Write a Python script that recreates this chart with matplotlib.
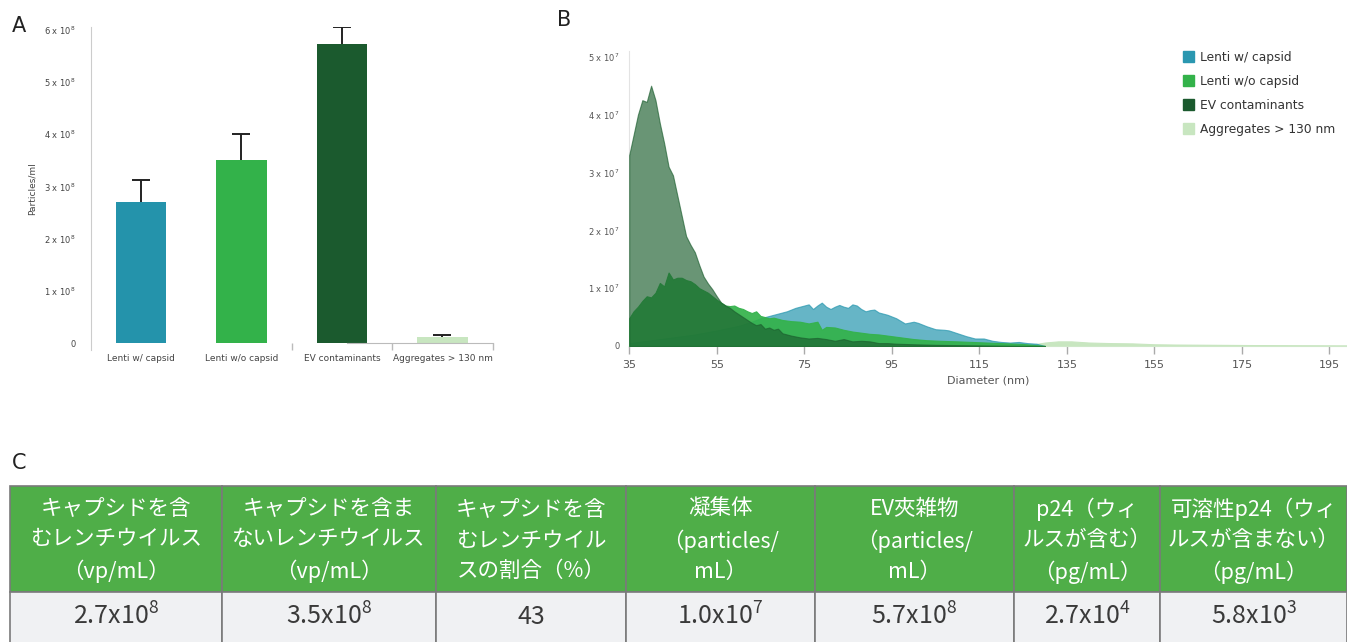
import numpy as np
import matplotlib
matplotlib.use('Agg')
import matplotlib.pyplot as plt
from matplotlib.patches import Patch, Rectangle

plt.rcParams['font.family'] = ['DejaVu Sans']
plt.rcParams['axes.unicode_minus'] = False

W, H = 1347, 642

# ---- Panel A: particle concentrations ----
categories = ['Lenti w/ capsid', 'Lenti w/o capsid', 'EV contaminants', 'Aggregates > 130 nm']
means = [2.70e8, 3.50e8, 5.73e8, 0.11e8]
errors = [0.42e8, 0.50e8, 0.32e8, 0.04e8]
bar_colors = ['#2493ab', '#33b24a', '#1b5a2e', '#c8e6c0']
a_ticks = [0, 1e8, 2e8, 3e8, 4e8, 5e8, 6e8]
a_tick_labels = ['0', r'1 x 10$^8$', r'2 x 10$^8$', r'3 x 10$^8$',
                 r'4 x 10$^8$', r'5 x 10$^8$', r'6 x 10$^8$']

# ---- Panel B: size distributions (values in units of 1e7) ----
ev_x = [35, 36, 37, 38, 39, 40, 41, 42, 43, 44, 45, 46, 47, 48, 49, 50, 51, 52, 53, 54,
        55, 56, 57, 58, 59, 60, 61, 62, 63, 64, 65, 66, 67, 68, 69, 70, 72, 74, 76, 78,
        80, 82, 84, 86, 88, 90, 92, 94, 96, 98, 100, 105, 110, 115, 120, 125, 130]
ev_y = [3.3, 3.65, 4.0, 4.25, 4.22, 4.5, 4.25, 3.85, 3.5, 3.1, 2.95, 2.6, 2.25, 1.9, 1.75,
        1.62, 1.4, 1.2, 1.08, 0.98, 0.86, 0.75, 0.7, 0.66, 0.6, 0.55, 0.5, 0.45, 0.4, 0.36,
        0.38, 0.3, 0.32, 0.28, 0.3, 0.22, 0.18, 0.15, 0.13, 0.14, 0.12, 0.09, 0.12, 0.08,
        0.09, 0.08, 0.05, 0.05, 0.04, 0.035, 0.03, 0.02, 0.015, 0.01, 0.005, 0.002, 0]

wo_x = [35, 36, 37, 38, 39, 40, 41, 42, 43, 44, 45, 46, 47, 48, 49, 50, 51, 52, 53, 54,
        55, 56, 57, 58, 59, 60, 61, 62, 63, 64, 65, 66, 67, 68, 70, 72, 74, 76, 78, 79,
        80, 82, 84, 86, 88, 90, 92, 94, 96, 98, 100, 103, 106, 110, 115, 120, 125, 130]
wo_y = [0.48, 0.6, 0.68, 0.78, 0.86, 0.84, 0.92, 1.09, 1.03, 1.27, 1.15, 1.18, 1.18, 1.14,
        1.12, 1.07, 1.0, 0.96, 0.92, 0.86, 0.8, 0.75, 0.7, 0.69, 0.7, 0.66, 0.64, 0.6, 0.57,
        0.6, 0.52, 0.5, 0.48, 0.49, 0.45, 0.43, 0.42, 0.39, 0.42, 0.28, 0.33, 0.32, 0.28,
        0.25, 0.23, 0.21, 0.2, 0.18, 0.16, 0.14, 0.12, 0.1, 0.09, 0.08, 0.065, 0.05, 0.035, 0]

cap_x = [35, 40, 45, 50, 55, 60, 63, 65, 67, 68, 70, 71, 72, 73, 74, 75, 76, 77, 78, 79,
         80, 81, 82, 83, 84, 85, 86, 87, 88, 89, 90, 91, 92, 94, 96, 98, 100, 101, 103, 105,
         107, 108, 110, 112, 114, 116, 118, 120, 122, 124, 126, 128, 130]
cap_y = [0.05, 0.1, 0.15, 0.2, 0.27, 0.35, 0.42, 0.48, 0.52, 0.54, 0.58, 0.6, 0.63, 0.66,
         0.68, 0.7, 0.72, 0.64, 0.7, 0.75, 0.68, 0.64, 0.68, 0.71, 0.68, 0.66, 0.72, 0.7,
         0.64, 0.6, 0.62, 0.63, 0.58, 0.54, 0.48, 0.39, 0.42, 0.4, 0.34, 0.29, 0.28, 0.27,
         0.22, 0.17, 0.13, 0.13, 0.09, 0.07, 0.06, 0.07, 0.05, 0.04, 0]

agg_x = [125, 130, 133, 136, 140, 145, 150, 155, 160, 170, 180, 190, 199]
agg_y = [0, 0.06, 0.08, 0.08, 0.06, 0.05, 0.045, 0.03, 0.025, 0.02, 0.015, 0.012, 0.01]

b_ticks = [0, 1e7, 2e7, 3e7, 4e7, 5e7]
b_tick_labels = ['0', r'1 x 10$^7$', r'2 x 10$^7$', r'3 x 10$^7$', r'4 x 10$^7$', r'5 x 10$^7$']
b_xticks = [35, 55, 75, 95, 115, 135, 155, 175, 195]

# ---- Panel C: table ----
headers = ['キャプシドを含\nむレンチウイルス\n（vp/mL）',
           'キャプシドを含ま\nないレンチウイルス\n（vp/mL）',
           'キャプシドを含\nむレンチウイル\nスの割合（%）',
           '凝集体\n（particles/\nmL）',
           'EV夾雑物\n（particles/\nmL）',
           'p24（ウィ\nルスが含む）\n（pg/mL）',
           '可溶性p24（ウィ\nルスが含まない）\n（pg/mL）']
values = [r'$\mathregular{2.7x10^{8}}$', r'$\mathregular{3.5x10^{8}}$', '43',
          r'$\mathregular{1.0x10^{7}}$', r'$\mathregular{5.7x10^{8}}$',
          r'$\mathregular{2.7x10^{4}}$', r'$\mathregular{5.8x10^{3}}$']

fig = plt.figure(figsize=(W / 100, H / 100), dpi=100)

# Panel A
ax_a = fig.add_axes([90.7 / W, 1 - 350 / H, 402 / W, (350 - 26.7) / H])
pos = np.arange(len(categories))
ax_a.bar(pos, means, width=0.5, color=bar_colors, zorder=2)
eb = ax_a.errorbar(pos, means, yerr=[[0] * len(errors), errors], fmt='none',
                   ecolor='#222222', elinewidth=1.4, capsize=6.5, capthick=1.4, zorder=3)
eb[1][0].set_visible(False)  # no cap on the bar top
ax_a.set_xlim(-0.5, 3.5)
ax_a.set_ylim(-0.13e8, 6.06e8)
ax_a.set_yticks(a_ticks)
ax_a.set_yticklabels(a_tick_labels)
ax_a.tick_params(axis='y', length=0, pad=11, labelsize=6, labelcolor='#444444')
ax_a.set_xticks(pos)
ax_a.set_xticklabels(categories)
ax_a.set_xticks([1.5, 2.5, 3.5], minor=True)
ax_a.tick_params(axis='x', which='major', length=0, pad=8, labelsize=6.5, labelcolor='#444444')
ax_a.tick_params(axis='x', which='minor', length=5, width=1, color='#bbbbbb', direction='out')
for s in ['top', 'right']:
    ax_a.spines[s].set_visible(False)
ax_a.spines['left'].set_color('#cccccc')
ax_a.spines['bottom'].set_color('#bbbbbb')
ax_a.spines['bottom'].set_position(('data', 0))
ax_a.spines['bottom'].set_bounds(2.05, 3.5)
ax_a.set_ylabel('Particles/ml', fontsize=6.5, color='#444444', labelpad=5)

# Panel B
ax_b = fig.add_axes([629.2 / W, 1 - 346 / H, (W - 629.2) / W, (346 - 51) / H])
ax_b.fill_between(cap_x, np.array(cap_y) * 1e7, color='#2596ae', alpha=0.7, lw=0.8,
                  edgecolor='#2596ae', zorder=2)
ax_b.fill_between(wo_x, np.array(wo_y) * 1e7, color='#33b24a', alpha=0.92, lw=0.8,
                  edgecolor='#33b24a', zorder=3)
ax_b.fill_between(ev_x, np.array(ev_y) * 1e7, color='#1b5e2e', alpha=0.66, lw=0.8,
                  edgecolor='#1b5e2e', zorder=4)
ax_b.fill_between(agg_x, np.array(agg_y) * 1e7, color='#c8e6c0', lw=0.8,
                  edgecolor='#c8e6c0', zorder=1)
ax_b.set_xlim(35, 199)
ax_b.set_ylim(0, 5.1e7)
ax_b.set_yticks(b_ticks)
ax_b.set_yticklabels(b_tick_labels)
ax_b.tick_params(axis='y', length=0, pad=7, labelsize=6, labelcolor='#555555')
ax_b.set_xticks(b_xticks)
ax_b.tick_params(axis='x', length=6, width=1, color='#aaaaaa', pad=4,
                 labelsize=8, labelcolor='#555555')
for s in ['top', 'right']:
    ax_b.spines[s].set_visible(False)
ax_b.spines['left'].set_color('#e3e3e3')
ax_b.spines['bottom'].set_color('#cfe8c9')
ax_b.set_xlabel('Diameter (nm)', fontsize=8, color='#555555', labelpad=4)
handles = [Patch(color=c) for c in ['#2a97b0', '#33b24a', '#1b5a2e', '#c8e6c0']]
ax_b.legend(handles, categories, loc='upper left', bbox_to_anchor=(0.772, 1.0),
            frameon=False, fontsize=8.8, handlelength=0.9, handleheight=1.05,
            handletextpad=0.45, labelspacing=0.9, borderpad=0, borderaxespad=0,
            labelcolor='#333333')

# Panel C
ax_c = fig.add_axes([10 / W, 0, (W - 10) / W, 156 / H])
ax_c.set_xlim(0, 1)
ax_c.set_ylim(0, 1)
ax_c.axis('off')
col_edges = [0, 0.1586, 0.3186, 0.4607, 0.6021, 0.7509, 0.8601, 1.0]
hb = 50 / 156
jp = ['Noto Sans CJK JP', 'DejaVu Sans']
for i, (h, v) in enumerate(zip(headers, values)):
    x0, x1 = col_edges[i], col_edges[i + 1]
    ax_c.add_patch(Rectangle((x0, hb), x1 - x0, 1 - hb, facecolor='#4fae48',
                             edgecolor='#7a7a7a', lw=1.2, clip_on=False))
    ax_c.add_patch(Rectangle((x0, -0.3), x1 - x0, hb + 0.3, facecolor='#f0f1f3',
                             edgecolor='#7a7a7a', lw=1.2, clip_on=False))
    ax_c.text((x0 + x1) / 2, (1 + hb) / 2 - 0.01, h, ha='center', va='center', color='white',
              fontsize=15.5, family=jp, linespacing=1.5)
    ax_c.text((x0 + x1) / 2, 25 / 156, v, ha='center', va='center', color='#3a3a3a',
              fontsize=18, family=jp)

fig.text(12 / W, 1 - 26 / H, 'A', fontsize=15, va='center', color='#222222')
fig.text(557 / W, 1 - 20 / H, 'B', fontsize=15, va='center', color='#222222')
fig.text(12 / W, 1 - 463 / H, 'C', fontsize=15, va='center', color='#222222')

fig.savefig('out.png', dpi=100)
